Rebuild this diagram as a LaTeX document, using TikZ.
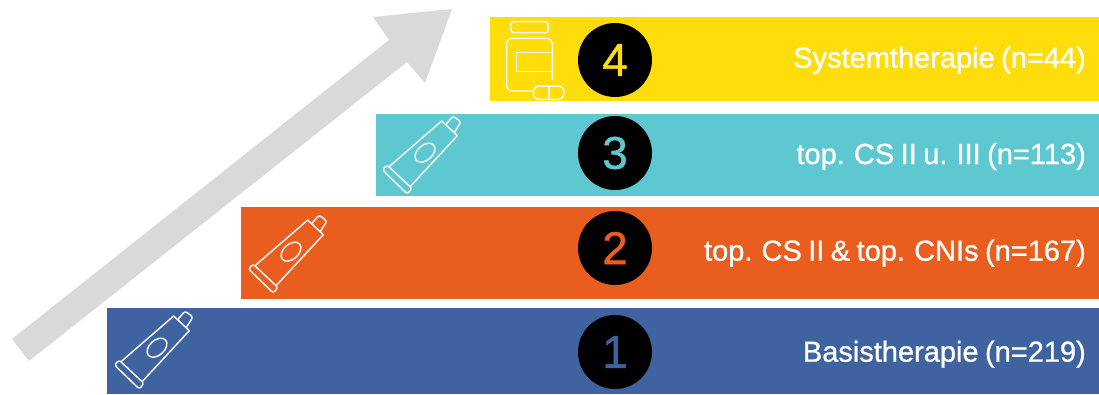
\documentclass[tikz,border=0pt]{standalone}
\usepackage{fontspec}
\setmainfont{Liberation Sans}
\newfontfamily\halbfett[FakeBold=0.9,WordSpace=0.8]{Liberation Sans}
\usetikzlibrary{arrows.meta,positioning,calc}
\definecolor{stufegelb}{HTML}{FFDD0A}
\definecolor{stufetuerkis}{HTML}{5DC8CF}
\definecolor{stufeorange}{HTML}{E95E1E}
\definecolor{stufeblau}{HTML}{3F62A0}
\definecolor{PfeilGrau}{HTML}{D9D9D9}
\tikzset{
  balken/.style  = {anchor=north west, inner sep=0pt, draw=none},
  kreis/.style   = {circle, fill=black, minimum size=74pt, inner sep=0pt,
                    font=\halbfett\fontsize{46}{46}\selectfont},
  therapie/.style = {anchor=base east, inner sep=0pt, text=white,
                    font=\halbfett\fontsize{29}{29}\selectfont},
  icon/.style    = {draw=white!92!gray, line width=1.5pt, line join=round},
  tube/.pic = {
    \draw[icon, rounded corners=2.5pt] (12.5,65) -- (17,60) -- (42,83.5) -- (37.3,89) -- cycle;
    \draw[icon] (19,61.7) -- (71.7,16) -- (87.3,30.7) -- (40.7,81);
    \draw[icon, rounded corners=2.5pt] (75.5,20) -- (83,11) -- (91,17) -- (84,28);
    \draw[icon] (55,47.7) ellipse [x radius=11.5, y radius=7.5, rotate=42];
  },
}
\begin{document}
\begin{tikzpicture}[x=1pt,y=-1pt]
  \useasboundingbox (0,0) rectangle (1099,394);
  % Pfeil
  \fill[PfeilGrau] (12,339) -- (389,40) -- (373,17) -- (452,9) -- (425,83) -- (407,62) -- (29,361) -- cycle;
  % Stufen
  \node[balken, fill=stufegelb, minimum width=609pt, minimum height=84pt] (balken4) at (490,17) {};
  \node[balken, fill=stufetuerkis, minimum width=723pt, minimum height=82pt] (balken3) at (376,114) {};
  \node[balken, fill=stufeorange, minimum width=858pt, minimum height=92pt] (balken2) at (241,207) {};
  \node[balken, fill=stufeblau, minimum width=992pt, minimum height=86pt] (balken1) at (107,308) {};
  \node[kreis, text=stufegelb] (kreis4) at (615,60) {4};
  \node[kreis, text=stufetuerkis] (kreis3) at (615,153) {3};
  \node[kreis, text=stufeorange] (kreis2) at (615,248) {2};
  \node[kreis, text=stufeblau] (kreis1) at (615,352) {1};
  \node[therapie] (text4) at (1086,67.7) {Systemtherapie (n=44)};
  \node[therapie] (text3) at (1086,164) {top. CS II u. III (n=113)};
  \node[therapie] (text2) at (1086,260.7) {top. CS II \& top. CNIs (n=167)};
  \node[therapie] (text1) at (1086,361.7) {Basistherapie (n=219)};
  % Icons
  \pic at (370,105) {tube};
  \pic at (236,204) {tube};
  \pic at (102,300) {tube};
  \begin{scope}[shift={(490,10)}]
    \draw[icon, rounded corners=3pt] (20.7,11.7) rectangle (58.3,22.7);
    \draw[icon, rounded corners=5pt] (62.3,70) -- (62.3,28.3) -- (16.7,28.3) -- (16.7,81) -- (43.3,81);
    \draw[icon] (62.3,42.7) -- (26.7,42.7) -- (26.7,61.7) -- (62.3,61.7);
    \draw[icon, rounded corners=6pt] (43.3,76) rectangle (74,89.3);
    \draw[icon] (59,76) -- (59,89.3);
  \end{scope}
\end{tikzpicture}
\end{document}
